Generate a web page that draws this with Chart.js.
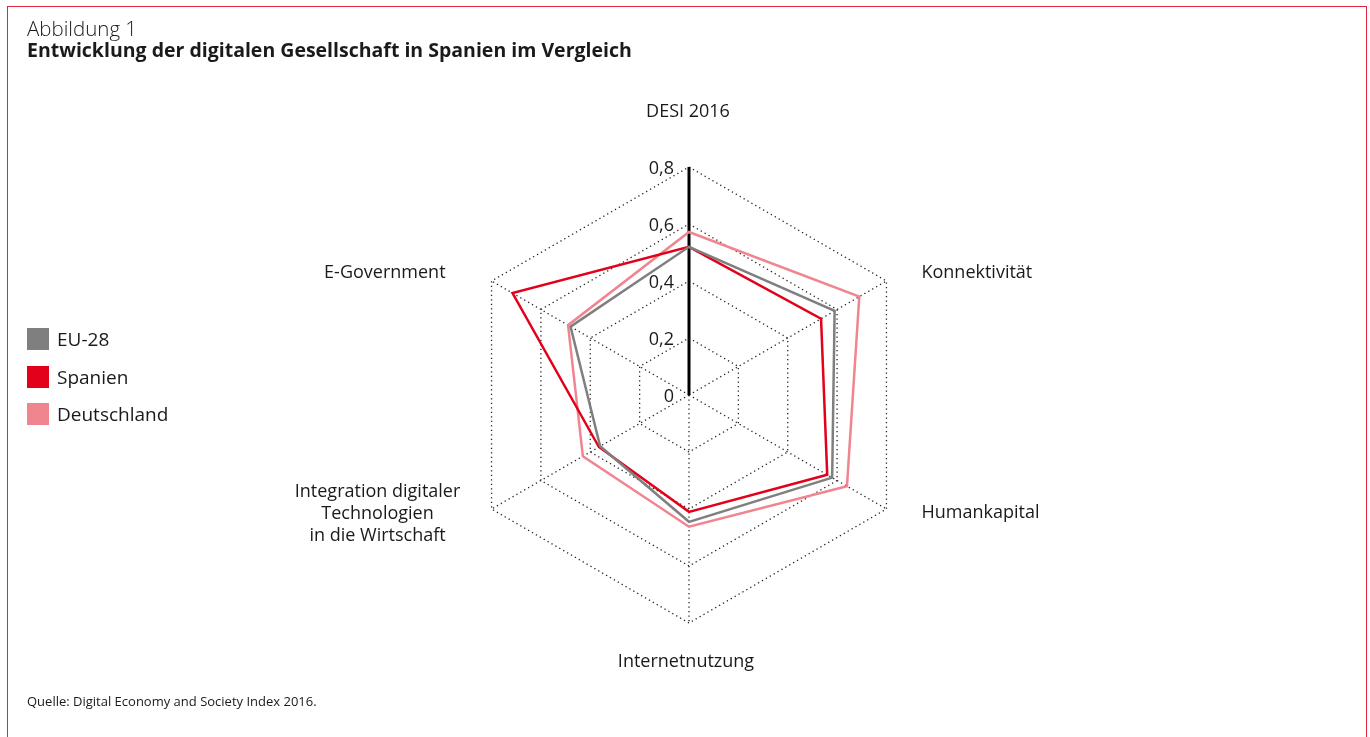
<!DOCTYPE html>
<html>
<head>
<meta charset="utf-8">
<script src="https://cdn.jsdelivr.net/npm/chart.js@4"></script>
<style>
  body { margin: 0; background: #fff; font-family: "Open Sans", sans-serif; color: #1a1a1a; }
  #page { position: relative; width: 1370px; height: 737px; overflow: hidden; }
  #frame { position: absolute; left: 7px; top: 6px; width: 1358px; height: 760px; border: 1.5px solid #e3243b; }
  #chart { position: absolute; left: 0; top: 0; }
  .kicker { position: absolute; left: 27px; top: 14px; font-size: 20.5px; font-weight: 300; line-height: 28px; }
  .title { position: absolute; left: 27px; top: 37px; font-size: 19.5px; font-weight: 700; line-height: 26px; }
  .source { position: absolute; left: 27px; top: 692px; font-size: 13px; line-height: 18px; }
  #legend { position: absolute; left: 27px; top: 328px; }
  .item { display: flex; align-items: center; height: 22px; margin-bottom: 15.5px; font-size: 19px; }
  .item span.box { width: 22px; height: 22px; margin-right: 8px; display: inline-block; }
</style>
</head>
<body>
<div id="page">
  <div id="frame"></div>
  <canvas id="chart" width="1370" height="737"></canvas>
  <div class="kicker">Abbildung 1</div>
  <div class="title">Entwicklung der digitalen Gesellschaft in Spanien im Vergleich</div>
  <div id="legend"></div>
  <div class="source">Quelle: Digital Economy and Society Index 2016.</div>
</div>
<script>
// Axes of the radar (clockwise from the top)
const categories = [
  "DESI 2016",
  "Konnektivität",
  "Humankapital",
  "Internetnutzung",
  ["Integration digitaler", "Technologien", "in die Wirtschaft"],
  "E-Government",
];

const seriesNames = ["EU-28", "Spanien", "Deutschland"];
const seriesColors = ["#7f7f7f", "#e2001a", "#f08590"];

const euValues = [0.52, 0.59, 0.58, 0.445, 0.36, 0.48];
const spainValues = [0.52, 0.535, 0.56, 0.41, 0.365, 0.715];
const germanyValues = [0.572, 0.69, 0.64, 0.462, 0.43, 0.49];

const tickValues = [0, 0.2, 0.4, 0.6, 0.8];
const tickLabels = ["0", "0,2", "0,4", "0,6", "0,8"];

// Where each axis label sits relative to the outer corner of the grid
const labelOffsets = [
  { dx: -1, dy: -55, align: "center" },
  { dx: 35, dy: -8, align: "left" },
  { dx: 35, dy: 4, align: "left" },
  { dx: -3, dy: 39, align: "center" },
  { dx: -114, dy: 5, align: "center" },
  { dx: -46, dy: -8, align: "right" },
];

// HTML legend
const legendBox = document.getElementById("legend");
seriesNames.forEach((name, i) => {
  const row = document.createElement("div");
  row.className = "item";
  row.innerHTML = `<span class="box" style="background:${seriesColors[i]}"></span>${name}`;
  legendBox.appendChild(row);
});

// Tick and axis labels drawn from the radial scale
const axisText = {
  id: "axisText",
  afterDraw(chart) {
    const scale = chart.scales.r;
    const ctx = chart.ctx;
    ctx.save();
    ctx.fillStyle = "#1a1a1a";
    ctx.textBaseline = "middle";
    ctx.font = '18px "Open Sans"';

    ctx.textAlign = "right";
    tickValues.forEach((v, i) => {
      const d = scale.getDistanceFromCenterForValue(v);
      ctx.fillText(tickLabels[i], scale.xCenter - 15, scale.yCenter - d + 2);
    });

    categories.forEach((label, i) => {
      const p = scale.getPointPosition(i, scale.drawingArea);
      const o = labelOffsets[i];
      const lines = Array.isArray(label) ? label : [label];
      ctx.textAlign = o.align;
      lines.forEach((line, k) => {
        ctx.fillText(line, p.x + o.dx, p.y + o.dy + (k - (lines.length - 1) / 2) * 22);
      });
    });
    ctx.restore();
  },
};

const ctx = document.getElementById("chart");

const data = {
  labels: categories,
  datasets: [
    { label: seriesNames[0], data: euValues, borderColor: seriesColors[0] },
    { label: seriesNames[1], data: spainValues, borderColor: seriesColors[1] },
    { label: seriesNames[2], data: germanyValues, borderColor: seriesColors[2] },
  ].map((ds) => ({
    ...ds,
    fill: false,
    borderWidth: 2.5,
    pointRadius: 0,
    pointHoverRadius: 0,
    tension: 0,
    borderJoinStyle: "miter",
  })),
};

const config = {
  type: "radar",
  data: data,
  options: {
    responsive: false,
    animation: false,
    layout: {
      padding: { left: 461, right: 453, top: 167, bottom: 114 },
    },
    plugins: {
      legend: { display: false },
      title: { display: false },
      tooltip: { enabled: false },
    },
    scales: {
      r: {
        min: 0,
        max: 0.8,
        ticks: { stepSize: 0.2, display: false },
        pointLabels: { display: false },
        grid: {
          color: "#222",
          lineWidth: 1.3,
          borderDash: [1.3, 3.2],
        },
        border: { dash: [1.3, 3.2] },
        angleLines: {
          color: (c) => (c.index === 0 ? "#000" : "#222"),
          lineWidth: (c) => (c.index === 0 ? 3 : 1.3),
          borderDash: (c) => (c.index === 0 ? [] : [1.3, 3.2]),
        },
      },
    },
  },
  plugins: [axisText],
};

const myChart = new Chart(ctx, config);
</script>
</body>
</html>
